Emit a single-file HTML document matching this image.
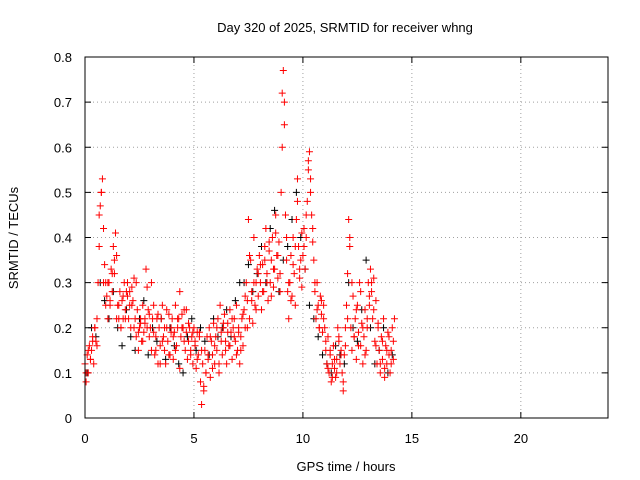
<!DOCTYPE html>
<html><head><meta charset="utf-8"><style>
body{margin:0;background:#fff}
svg{display:block;font-family:"Liberation Sans",sans-serif;font-size:13px}
</style></head><body>
<svg id="chart" width="640" height="480">
<text x="345" y="32" text-anchor="middle">Day 320 of 2025, SRMTID for receiver whng</text>
<text x="346" y="471" text-anchor="middle">GPS time / hours</text>
<text transform="translate(18,238) rotate(-90)" text-anchor="middle">SRMTID / TECUs</text>
<g id="grid"></g>
<g id="ticks"></g>
<g id="marks"></g>
<rect x="85" y="57" width="523" height="361" fill="none" stroke="#000"/>
</svg>
<script>
const xTicks=[0,5,10,15,20];
const yTicks=[0,0.1,0.2,0.3,0.4,0.5,0.6,0.7,0.8];
const redStart=0, redStep=0.05;
const redValues=[
.12,.08,.14,.1,.16,.13,.15,.18,.12,.2,.17,.22,.3,.38,.47,.5,.53,.42,.34,.3,
.27,.22,.3,.25,.33,.28,.38,.32,.41,.36,.25,.22,.28,.2,.26,.22,.3,.24,.28,.27,
.22,.25,.2,.29,.26,.31,.22,.18,.24,.15,.2,.22,.17,.25,.19,.21,.33,.29,.24,.18,
.2,.15,.22,.25,.14,.18,.22,.12,.2,.16,.22,.25,.18,.15,.12,.2,.17,.23,.14,.19,
.22,.13,.19,.25,.16,.2,.22,.28,.18,.23,.2,.24,.15,.19,.13,.17,.2,.15,.18,.12,
.2,.16,.11,.19,.14,.18,.08,.03,.12,.06,.15,.1,.18,.13,.2,.09,.17,.14,.21,.12,
.18,.15,.22,.1,.25,.19,.14,.2,.23,.17,.12,.21,.16,.24,.19,.13,.2,.22,.17,.25,
.15,.2,.12,.18,.22,.16,.24,.2,.3,.26,.44,.22,.35,.28,.21,.4,.25,.3,.33,.27,
.36,.3,.24,.34,.28,.38,.42,.32,.26,.37,.3,.35,.4,.29,.33,.45,.36,.31,.39,.28,
.5,.72,.77,.65,.45,.35,.28,.22,.3,.36,.27,.4,.32,.25,.44,.53,.38,.31,.35,.29,
.36,.42,.33,.4,.48,.55,.59,.5,.45,.39,.35,.28,.22,.3,.25,.2,.27,.23,.19,.25,
.2,.15,.12,.18,.1,.14,.08,.12,.16,.11,.09,.13,.2,.17,.12,.15,.1,.06,.14,.2,
.25,.32,.44,.38,.2,.15,.27,.18,.22,.13,.25,.19,.3,.16,.21,.12,.18,.24,.15,.2,
.3,.25,.33,.28,.22,.31,.17,.26,.12,.2,.15,.1,.18,.13,.22,.09,.16,.12,.19,.14,
.1,.15,.2,.13,.22];
const red2Start=0.05, red2Step=0.1;
const red2Values=[
.1,.15,.13,.17,.2,.16,.45,.5,.3,.25,
.3,.26,.32,.35,.22,.25,.2,.27,.22,.3,
.28,.25,.2,.3,.19,.21,.17,.22,.2,.23,
.3,.19,.15,.23,.12,.17,.2,.24,.14,.2,
.18,.15,.22,.11,.2,.17,.24,.21,.14,.19,
.17,.13,.19,.15,.07,.1,.14,.18,.11,.16,
.2,.12,.17,.21,.15,.19,.16,.22,.18,.14,
.19,.15,.23,.27,.2,.36,.26,.3,.24,.32,
.34,.28,.35,.3,.39,.27,.33,.41,.36,.32,
.6,.7,.4,.3,.26,.34,.38,.48,.33,.41,
.38,.45,.57,.53,.42,.3,.24,.2,.26,.22,
.17,.11,.15,.09,.13,.1,.18,.14,.08,.16,
.22,.4,.3,.18,.24,.16,.28,.2,.14,.22,
.27,.3,.24,.16,.21,.12,.17,.11,.15,.18,
.12,.17];
const blackStart=0.1, blackStep=0.2;
const blackValues=[
.1,.2,.18,.3,.26,.22,.28,.2,.16,.24,.18,.15,.22,.26,.14,.2,.17,.22,.13,.2,
.16,.12,.1,.18,.22,.15,.2,.17,.14,.22,.18,.2,.24,.18,.26,.3,.3,.34,.28,.32,
.38,.3,.42,.46,.28,.35,.38,.44,.5,.4,.33,.25,.22,.18,.14,.12,.1,.16,.14,.12,
.3,.2,.17,.24,.35,.2,.12,.15,.2,.1,.14];
const X0=85,X1=608,Y0=418,Y1=57;
const xs=v=>X0+(v-0)/(24-0)*(X1-X0);
const ys=v=>Y0-(v-0)/(0.8-0)*(Y0-Y1);
const NS="http://www.w3.org/2000/svg";
const grid=document.getElementById('grid'),ticks=document.getElementById('ticks'),marks=document.getElementById('marks');
function mk(tag,attrs,parent){const e=document.createElementNS(NS,tag);for(const k in attrs)e.setAttribute(k,attrs[k]);parent.appendChild(e);return e;}
yTicks.forEach(t=>{const y=ys(t);
 if(t>0&&t<0.8){const l=mk('line',{x1:X0,x2:X1,y1:y,y2:y,stroke:'#a0a0a0','stroke-dasharray':'1,3'},grid);
 
 }
 mk('line',{x1:X0,x2:X0+6,y1:y,y2:y,stroke:'#000'},ticks);
 mk('line',{x1:X1,x2:X1-6,y1:y,y2:y,stroke:'#000'},ticks);
 const tx=mk('text',{x:72,y:y+5,'text-anchor':'end'},ticks);tx.textContent=String(t);
 
 });
xTicks.forEach(t=>{const x=xs(t);
 if(t>0){const l=mk('line',{x1:x,x2:x,y1:Y0,y2:Y1,stroke:'#a0a0a0','stroke-dasharray':'1,3'},grid);
 
 }
 mk('line',{x1:x,x2:x,y1:Y0,y2:Y0-6,stroke:'#000'},ticks);
 mk('line',{x1:x,x2:x,y1:Y1,y2:Y1+6,stroke:'#000'},ticks);
 const tx=mk('text',{x:x,y:443,'text-anchor':'middle'},ticks);tx.textContent=String(t);
 
 });
function plus(x,y,c,name){const p=mk('path',{d:`M${x-3.5},${y}h7M${x},${y-3.5}v7`,stroke:c,'stroke-width':1},marks);
 
 }
blackValues.forEach((v,i)=>plus(xs(blackStart+i*blackStep),ys(v),'#000','black-point'));
redValues.forEach((v,i)=>plus(xs(redStart+i*redStep),ys(v),'#ff0000','red-point'));
red2Values.forEach((v,i)=>plus(xs(red2Start+i*red2Step),ys(v),'#ff0000','red-point'));
</script>
</body></html>
